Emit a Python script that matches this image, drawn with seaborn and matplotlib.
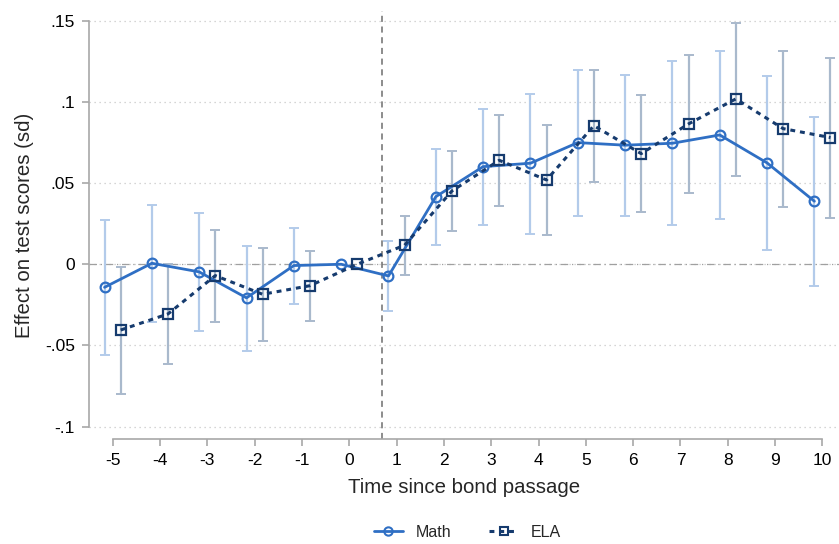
import numpy as np
import pandas as pd
import matplotlib
matplotlib.use("Agg")
import matplotlib.pyplot as plt
from matplotlib.lines import Line2D
import seaborn as sns

# ─── Data ─────────────────────────────────────────────────────────────────────
years = [-5, -4, -3, -2, -1, 0, 1, 2, 3, 4, 5, 6, 7, 8, 9, 10]

math_est = [-0.0142, 0.0006, -0.0047, -0.0207, -0.0008, 0.0, -0.0072, 0.0416,
            0.0601, 0.0622, 0.0749, 0.0733, 0.0745, 0.0796, 0.0624, 0.0388]
math_hi = [0.0271, 0.0365, 0.0318, 0.0115, 0.0224, 0.0, 0.0142, 0.0712,
           0.0956, 0.1050, 0.1194, 0.1166, 0.1250, 0.1313, 0.1160, 0.0907]
math_lo = [-0.0560, -0.0353, -0.0410, -0.0532, -0.0246, 0.0, -0.0286, 0.0117,
           0.0242, 0.0189, 0.0299, 0.0296, 0.0242, 0.0277, 0.0088, -0.0132]

ela_est = [-0.0405, -0.0306, -0.0070, -0.0185, -0.0132, 0.0, 0.0117, 0.0451,
           0.0640, 0.0519, 0.0853, 0.0681, 0.0864, 0.1018, 0.0835, 0.0780]
ela_hi = [-0.0015, 0.0002, 0.0213, 0.0100, 0.0084, 0.0, 0.0297, 0.0700,
          0.0921, 0.0858, 0.1198, 0.1040, 0.1289, 0.1488, 0.1315, 0.1270]
ela_lo = [-0.0799, -0.0616, -0.0355, -0.0470, -0.0349, 0.0, -0.0066, 0.0203,
          0.0359, 0.0179, 0.0509, 0.0320, 0.0441, 0.0546, 0.0351, 0.0287]

y_ticks = [-0.1, -0.05, 0, 0.05, 0.1, 0.15]
y_tick_labels = ["-.1", "-.05", "0", ".05", ".1", ".15"]

# ─── Styling ──────────────────────────────────────────────────────────────────
sns.set_style("white")
plt.rcParams["font.family"] = ["Liberation Sans", "DejaVu Sans"]

MATH_COLOR = "#2f6fc4"
MATH_ERR = "#b3cbea"
ELA_COLOR = "#163b6e"
ELA_ERR = "#a9b9cc"
AXIS_GRAY = "#a8a8a8"

df = pd.concat([
    pd.DataFrame({"Year": years, "Est": math_est, "Lo": math_lo, "Hi": math_hi,
                  "Subject": "Math", "Shift": -0.17}),
    pd.DataFrame({"Year": years, "Est": ela_est, "Lo": ela_lo, "Hi": ela_hi,
                  "Subject": "ELA", "Shift": 0.17}),
], ignore_index=True)
df["X"] = df["Year"] + df["Shift"]

fig = plt.figure(figsize=(8.39, 5.44), dpi=100)
ax = fig.add_axes([0.106, 0.193, 0.894, 0.787])

# gridlines, zero line and event line
for yv in y_ticks:
    ax.axhline(yv, color="#c8c8c8", lw=0.9, ls=(0, (1, 3)), zorder=0)
ax.axhline(0, color="#a0a0a0", lw=0.9, ls=(0, (6, 3, 1, 3)), zorder=1)
ax.axvline(0.7, color="#6e6e6e", lw=1.1, ls=(0, (4, 3)), zorder=1)

styles = {
    "Math": dict(color=MATH_COLOR, err=MATH_ERR, marker="o", ms=7, ls="-", lw=2.0),
    "ELA": dict(color=ELA_COLOR, err=ELA_ERR, marker="s", ms=6.5, ls=(0, (1.6, 1.6)), lw=2.2),
}

for subject in ["Math", "ELA"]:
    sub = df[(df["Subject"] == subject)]
    st = styles[subject]
    ci = sub[sub["Year"] != 0]
    ax.errorbar(ci["X"], ci["Est"], yerr=[ci["Est"] - ci["Lo"], ci["Hi"] - ci["Est"]],
                fmt="none", ecolor=st["err"], elinewidth=1.6, capsize=3.5,
                capthick=1.4, zorder=2)

for subject in ["Math", "ELA"]:
    sub = df[(df["Subject"] == subject)]
    st = styles[subject]
    sns.lineplot(data=sub, x="X", y="Est", ax=ax, color=st["color"], lw=st["lw"],
                 linestyle=st["ls"], marker=st["marker"], markersize=st["ms"],
                 markerfacecolor="none", markeredgecolor=st["color"],
                 markeredgewidth=1.6, zorder=3, legend=False)

# axes
ax.set_xlim(-5.5, 10.35)
ax.set_ylim(-0.1076, 0.156)
ax.set_xticks(years)
ax.set_xticklabels([str(v) for v in years], fontsize=12.5)
ax.set_yticks(y_ticks)
ax.set_yticklabels(y_tick_labels, fontsize=12.5)
ax.set_xlabel("Time since bond passage", fontsize=14.7, labelpad=7)
ax.set_ylabel("Effect on test scores (sd)", fontsize=14.7, labelpad=8)

for side in ["top", "right"]:
    ax.spines[side].set_visible(False)
ax.spines["left"].set_bounds(-0.1, 0.15)
ax.spines["bottom"].set_bounds(-5, 10)
for side in ["left", "bottom"]:
    ax.spines[side].set_color(AXIS_GRAY)
    ax.spines[side].set_linewidth(1.2)
ax.tick_params(axis="both", which="major", bottom=True, left=True, direction="out",
               length=5, width=1.2, color=AXIS_GRAY, labelcolor="black", pad=5)

handles = [
    Line2D([], [], color=MATH_COLOR, lw=2.0, marker="o", ms=6, markerfacecolor="none",
           markeredgewidth=1.5),
    Line2D([], [], color=ELA_COLOR, lw=2.2, ls=(0, (1.6, 1.6)), marker="s", ms=6,
           markerfacecolor="none", markeredgewidth=1.5),
]
fig.legend(handles, ["Math", "ELA"], loc="center", bbox_to_anchor=(0.557, 0.022),
           ncol=2, frameon=False, fontsize=11.5, handlelength=1.8, columnspacing=2.4)

fig.savefig("out.png", dpi=100)
